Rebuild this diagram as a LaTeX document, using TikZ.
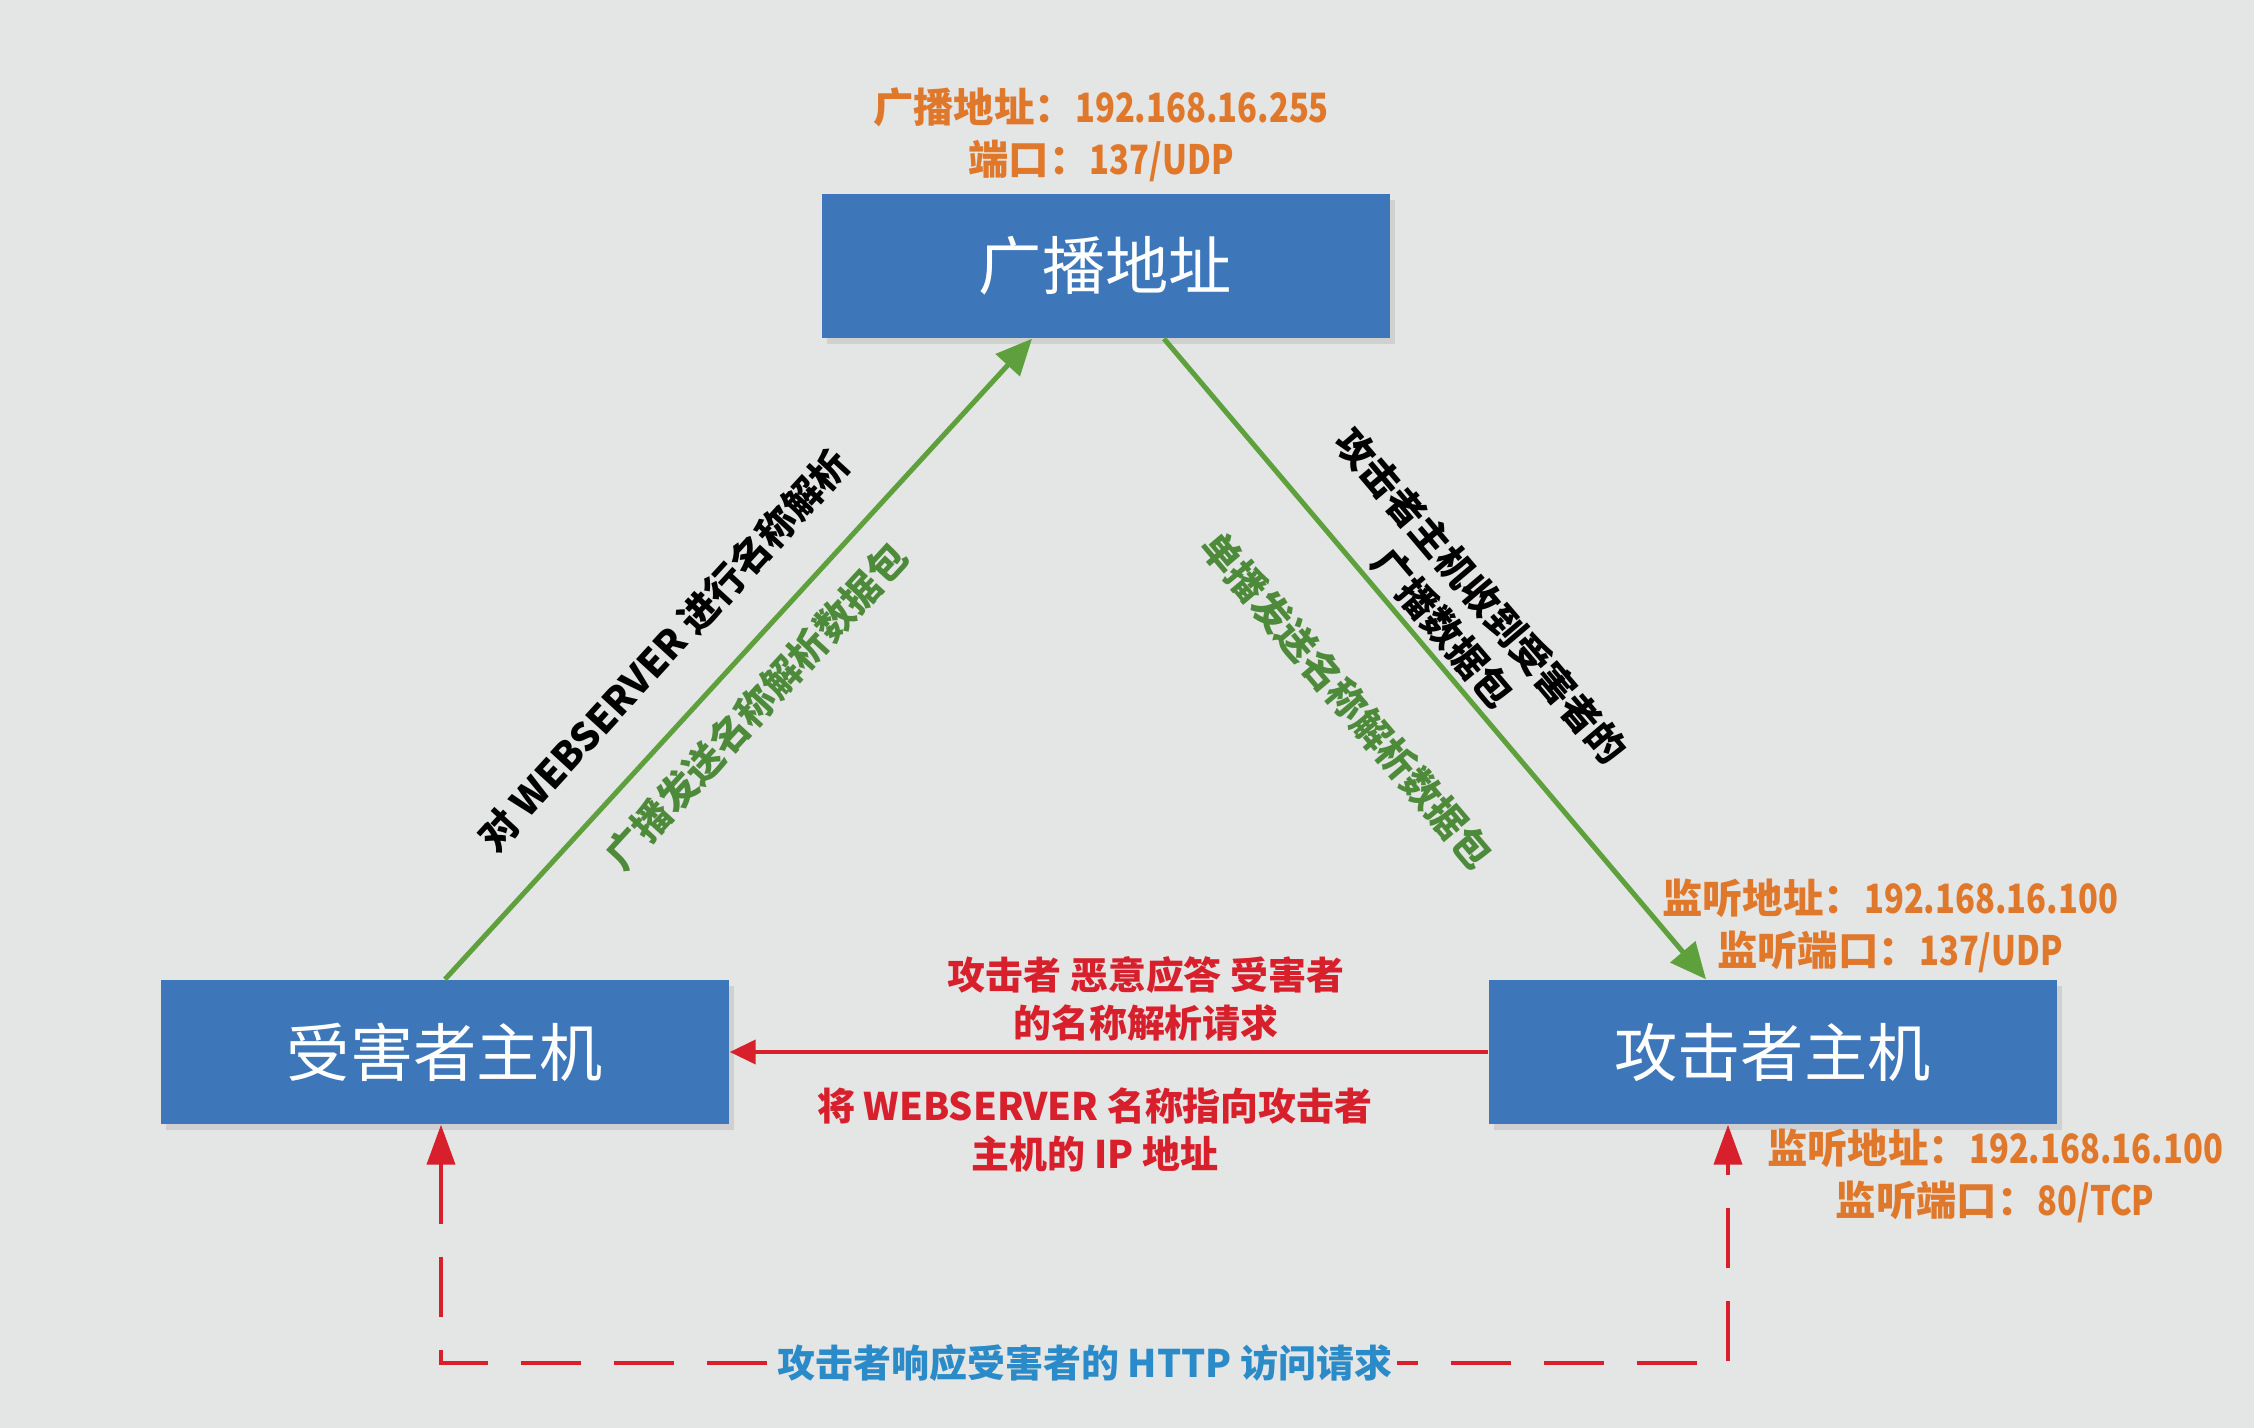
\documentclass[tikz,border=0pt]{standalone}
\usepackage{fontspec}
\setmainfont{Noto Sans CJK SC}
\newfontfamily\narrowfont{Noto Sans CJK SC}[FakeStretch=0.81]
\newcommand{\addr}[1]{{\narrowfont #1}}
\usetikzlibrary{arrows.meta, shadows}

\definecolor{bgGray}{HTML}{E4E5E5}
\definecolor{boxBlue}{HTML}{3E76BA}
\definecolor{noteOrange}{HTML}{E0782C}
\definecolor{flowGreen}{HTML}{5EA03C}
\definecolor{textGreen}{HTML}{4D8A3A}
\definecolor{spoofRed}{HTML}{D7202B}
\definecolor{replyBlue}{HTML}{2A8BC8}

\begin{document}
\begin{tikzpicture}[
            x=0.1mm, y=-0.1mm,
            hostbox/.style={rectangle, fill=boxBlue, text=white, minimum width=56.8mm, minimum height=14.4mm, inner sep=0pt, font=\fontsize{18}{20}\selectfont, drop shadow={opacity=0.2, shadow xshift=0.5mm, shadow yshift=-0.6mm}}, % blue host boxes
            portnote/.style={text=noteOrange, align=center, font=\fontsize{11.5}{14.8}\selectfont\bfseries}, % address and port notes
            steplabel/.style={align=center, font=\fontsize{11}{14.2}\selectfont\bfseries}, % texts along the lines
            flow/.style={flowGreen, line width=0.5mm, -{Triangle[length=3.6mm, width=3.2mm]}},
            spoof/.style={spoofRed, line width=0.4mm, -{Triangle[length=2.6mm, width=2.4mm]}},
            reply/.style={spoofRed, line width=0.4mm, dash pattern=on 6mm off 3.3mm, {Triangle[length=4mm, width=2.8mm]}-{Triangle[length=4mm, width=2.8mm]}}
            ]

        % background
        \fill[bgGray] (0,0) rectangle (2254,1428);
        \useasboundingbox (0,0) rectangle (2254,1428);

        % hosts
        \node[hostbox] (broadcast) at (1105.5,266) {广播地址};
        \node[hostbox] (victim) at (445,1052) {受害者主机};
        \node[hostbox] (attacker) at (1772.5,1052) {攻击者主机};

        % address and port notes
        \node[portnote] (bcnote) at (1101,135) {广播地址：\addr{192.168.16.255}\\端口：\addr{137/UDP}};
        \node[portnote] (udpnote) at (1890,926) {监听地址：\addr{192.168.16.100}\\监听端口：\addr{137/UDP}};
        \node[portnote] (tcpnote) at (1995,1176) {监听地址：\addr{192.168.16.100}\\监听端口：\addr{80/TCP}};

        % name resolution
        \draw[flow] (victim.north) -- ([xshift=-7.35mm]broadcast.south);
        \draw[flow] ([xshift=5.85mm]broadcast.south) -- ([xshift=-6.65mm]attacker.north);
        \node[steplabel, rotate=47.5] (askname) at (664,650) {对 WEBSERVER 进行名称解析};
        \node[steplabel, text=textGreen, rotate=47.5] (sendbc) at (756,706) {广播发送名称解析数据包};
        \node[steplabel, rotate=-49.7] (getbc) at (1462,612) {攻击者主机收到受害者的\\广播数据包};
        \node[steplabel, text=textGreen, rotate=-49.7] (sendun) at (1347,700) {单播发送名称解析数据包};

        % spoofed answer
        \draw[spoof] (attacker.west) -- (victim.east);
        \node[steplabel, text=spoofRed, font=\fontsize{10.8}{13.7}\selectfont\bfseries] (fakeans) at (1146,999) {攻击者 恶意应答 受害者\\的名称解析请求};
        \node[steplabel, text=spoofRed, font=\fontsize{10.8}{13.7}\selectfont\bfseries] (pointip) at (1095,1130) {将 WEBSERVER 名称指向攻击者\\主机的 IP 地址};

        % http reply
        \coordinate (lowleft) at (441,1363);
        \coordinate (lowright) at (1728,1363);
        \draw[reply] (victim.south -| lowleft) -- (lowleft) -- (lowright) -- (attacker.south -| lowright);
        \node[steplabel, text=replyBlue, fill=bgGray, inner sep=0.5mm, font=\fontsize{10.8}{13.7}\selectfont\bfseries] (httpans) at (1085,1363) {攻击者响应受害者的 HTTP 访问请求};

\end{tikzpicture}
\end{document}
